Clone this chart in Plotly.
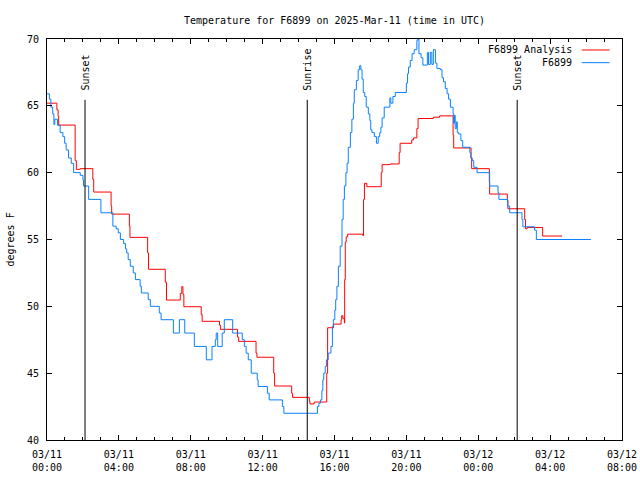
import pandas as pd
import plotly.graph_objects as go

START = pd.Timestamp("2025-03-11 00:00")
TITLE = "Temperature for F6899 on 2025-Mar-11 (time in UTC)"
Y_LABEL = "degrees F"

# F6899 observations: minutes after 2025-03-11 00:00 UTC, temperature (F)
obs_minutes = [
    0, 8, 13, 19, 23, 26, 35, 44, 53, 59,
    64, 72, 81, 89, 111, 120, 122, 139, 180, 220,
    231, 238, 245, 256, 262, 266, 271, 278, 288, 295,
    311, 315, 338, 345, 375, 381, 422, 442, 460, 492,
    532, 551, 562, 565, 570, 585, 592, 620, 652, 659,
    665, 672, 682, 702, 705, 736, 742, 786, 791, 903,
    908, 913, 918, 921, 924, 929, 933, 939, 948, 953,
    956, 961, 964, 968, 973, 979, 985, 989, 993, 998,
    1002, 1006, 1013, 1018, 1023, 1026, 1033, 1039, 1044, 1048,
    1052, 1056, 1061, 1066, 1073, 1078, 1081, 1085, 1093, 1100,
    1106, 1111, 1115, 1119, 1126, 1145, 1148, 1155, 1163, 1200,
    1204, 1207, 1213, 1219, 1226, 1235, 1238, 1242, 1249, 1255,
    1270, 1274, 1280, 1285, 1290, 1297, 1302, 1313, 1319, 1324,
    1330, 1336, 1341, 1347, 1356, 1358, 1361, 1363, 1367, 1370,
    1374, 1382, 1388, 1412, 1415, 1420, 1425, 1436, 1478, 1506,
    1509, 1538, 1545, 1586, 1589, 1628, 1634, 1816,
]
obs_temps = [
    65.9, 65.5, 64.9, 64.4, 63.6, 64.0, 63.55, 63.0, 62.7, 62.2,
    61.7, 61.1, 60.7, 60.0, 59.8, 59.45, 59.0, 58.0, 57.0, 56.0,
    55.8, 55.5, 55.0, 54.7, 54.3, 54.0, 53.5, 53.0, 52.5, 52.0,
    51.5, 51.0, 50.5, 50.0, 49.5, 49.0, 48.0, 49.0, 48.0, 47.0,
    46.0, 47.0, 47.5, 48.0, 47.0, 48.0, 49.0, 48.0, 47.5, 47.0,
    46.5, 46.0, 45.0, 44.5, 44.0, 43.5, 43.0, 42.5, 42.0, 42.5,
    42.75, 43.0, 43.7, 44.5, 45.0, 45.5, 46.0, 46.5, 47.0, 48.5,
    49.0, 49.7, 50.5, 51.5, 53.0, 54.5, 56.5, 58.0, 59.0, 60.0,
    60.7, 61.9, 63.0, 64.0, 65.2, 66.2, 66.9, 67.7, 68.0, 67.7,
    67.0, 66.0, 65.7, 64.9, 64.4, 63.9, 63.2, 63.0, 62.7, 62.2,
    62.7, 63.0, 63.4, 64.1, 64.9, 65.6, 65.2, 65.7, 66.0, 66.7,
    67.4, 67.9, 68.4, 68.9, 69.2, 69.9, 70.0, 68.9, 68.6, 68.05,
    69.0, 68.1, 69.0, 68.1, 69.2, 68.2, 67.8, 67.7, 67.1, 66.8,
    66.3, 65.9, 65.5, 64.9, 64.4, 63.7, 64.3, 63.3, 63.8, 63.0,
    62.9, 62.4, 61.9, 61.5, 61.1, 60.9, 60.4, 60.0, 59.0, 58.5,
    58.0, 57.5, 57.0, 56.5, 55.95, 55.7, 55.0, 55.0,
]

# F6899 Analysis: minutes after 2025-03-11 00:00 UTC, temperature (F)
ana_minutes = [
    0, 33, 37, 39, 94, 98, 111, 153, 156, 214,
    216, 275, 277, 336, 339, 395, 399, 445, 450, 454,
    457, 515, 518, 576, 579, 636, 640, 698, 701, 757,
    760, 817, 820, 876, 878, 892, 934, 937, 957, 982,
    984, 988, 993, 994, 996, 999, 1004, 1054, 1057, 1060,
    1068, 1116, 1119, 1146, 1176, 1179, 1218, 1224, 1235, 1239,
    1290, 1311, 1356, 1358, 1416, 1418, 1477, 1478, 1537, 1539,
    1595, 1598, 1603, 1655, 1720,
]
ana_temps = [
    65.2, 64.7, 64.2, 63.56, 60.9, 60.25, 60.3, 59.5, 58.55, 57.5,
    56.9, 56.0, 55.16, 54.0, 52.77, 51.8, 50.47, 50.97, 51.47, 50.9,
    49.97, 49.4, 48.88, 48.6, 48.28, 47.7, 47.38, 46.5, 46.19, 45.0,
    44.04, 43.5, 43.19, 42.9, 42.7, 42.84, 45.0, 48.4, 48.67, 49.0,
    49.3, 49.1, 48.75, 52.0, 54.8, 55.2, 55.4, 55.3, 58.0, 59.2,
    58.95, 60.0, 60.6, 60.65, 61.5, 62.2, 62.45, 62.6, 63.3, 64.05,
    64.15, 64.25, 62.8, 61.85, 61.07, 60.3, 59.3, 58.4, 57.95, 57.3,
    56.5, 55.8, 55.9, 55.26, 55.26,
]

# Sun events (minutes after start)
event_names = ["Sunset", "Sunrise", "Sunset"]
event_minutes = [127, 869, 1570]

series_names = ["F6899 Analysis", "F6899"]
series_colors = ["#ff0000", "#0a80ff"]

y_range = [40, 70]
x_range_end = "2025-03-12 08:00"

FONT = "DejaVu Sans Mono"


def to_time(mins):
    return START + pd.to_timedelta(pd.Series(mins, dtype=float), unit="m")


fig = go.Figure()
fig.add_trace(go.Scatter(x=to_time(ana_minutes), y=ana_temps, mode="lines",
                         line=dict(color=series_colors[0], width=1, shape="hv"),
                         name=series_names[0], hoverinfo="skip"))
fig.add_trace(go.Scatter(x=to_time(obs_minutes), y=obs_temps, mode="lines",
                         line=dict(color=series_colors[1], width=1, shape="hv"),
                         name=series_names[1], hoverinfo="skip"))

event_times = to_time(event_minutes)
for name, t in zip(event_names, event_times):
    fig.add_shape(type="line", xref="x", yref="y", x0=t, x1=t, y0=y_range[0], y1=65.45,
                  line=dict(color="black", width=1))
    fig.add_annotation(x=t, y=66.0, xref="x", yref="y", text=name, textangle=-90,
                       showarrow=False, xanchor="center", yanchor="bottom",
                       font=dict(family=FONT, size=10, color="black"))

# Legend (gnuplot style: text on the left, sample line on the right)
legend_rows_y = [0.9726, 0.9410]
for name, color, yy in zip(series_names, series_colors, legend_rows_y):
    fig.add_annotation(x=0.917, y=yy, xref="paper", yref="paper", text=name,
                       showarrow=False, xanchor="right", yanchor="middle",
                       font=dict(family=FONT, size=10, color="black"))
    fig.add_shape(type="line", xref="paper", yref="paper", x0=0.930, x1=0.9785,
                  y0=yy, y1=yy, line=dict(color=color, width=1))

fig.add_annotation(x=0, y=0.5, xref="paper", yref="paper", text=Y_LABEL, textangle=-90,
                   showarrow=False, xanchor="center", yanchor="middle", xshift=-37,
                   font=dict(family=FONT, size=10, color="black"))

fig.update_layout(
    width=640, height=480,
    margin=dict(l=47, r=18, t=39, b=40, pad=0, autoexpand=False),
    paper_bgcolor="white", plot_bgcolor="white",
    showlegend=False,
    title=dict(text=TITLE, x=(47 + 622) / 2 / 640, xanchor="center", y=1 - 20 / 480,
               yanchor="middle", font=dict(family=FONT, size=10, color="black")),
    font=dict(family=FONT, size=10, color="black"),
)
fig.update_xaxes(
    type="date", range=[START, pd.Timestamp(x_range_end)], automargin=False,
    tick0=START, dtick=4 * 3600 * 1000, tickformat="%m/%d<br>%H:%M",
    ticks="inside", ticklen=5, tickcolor="black", tickwidth=1, ticklabelstandoff=5,
    minor=dict(dtick=3600 * 1000, ticks="inside", ticklen=3, tickcolor="black", tickwidth=1),
    showline=True, linecolor="black", linewidth=1, mirror="ticks",
    showgrid=False, zeroline=False,
    tickfont=dict(family=FONT, size=10, color="black"),
)
fig.update_yaxes(
    range=y_range, dtick=5, tick0=40, automargin=False,
    ticks="inside", ticklen=5, tickcolor="black", tickwidth=1, ticklabelstandoff=5,
    showline=True, linecolor="black", linewidth=1, mirror="ticks",
    showgrid=False, zeroline=False,
    tickfont=dict(family=FONT, size=10, color="black"),
)

fig.write_html("out.html", config={"displayModeBar": False},
               post_script="document.body.style.margin='0';")
